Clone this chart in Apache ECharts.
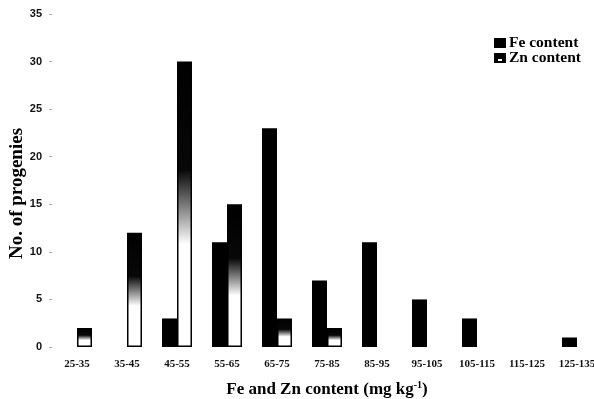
<!DOCTYPE html>
<html>
<head>
<meta charset="utf-8">
<script src="https://cdn.jsdelivr.net/npm/echarts@6/dist/echarts.min.js"></script>
<style>
  html, body { margin: 0; padding: 0; background: #fff; }
  #chart { width: 594px; height: 399px; }
</style>
</head>
<body>
<div id="chart"></div>
<script>
// Content classes (mg kg-1)
const categories = ['25-35', '35-45', '45-55', '55-65', '65-75', '75-85', '85-95', '95-105', '105-115', '115-125', '125-135'];
// Number of progenies per class
const feCounts = [0, 0, 3, 11, 23, 7, 11, 5, 3, 0, 1];
const znCounts = [2, 12, 30, 15, 3, 2, 0, 0, 0, 0, 0];
// Y axis ticks
const yTicks = [0, 5, 10, 15, 20, 25, 30, 35];

const serif = '"Liberation Serif", "Times New Roman", serif';
const sans = '"Liberation Sans", Arial, sans-serif';

// empty classes get no bar (and no outline)
const asBars = arr => arr.map(v => (v === 0 ? '-' : v));

// Zn bars: dark at the top fading to white, outlined in black
const znFill = new echarts.graphic.LinearGradient(0, 0, 0, 1, [
  { offset: 0, color: '#000' },
  { offset: 0.38, color: '#080808' },
  { offset: 0.52, color: '#8a8a8a' },
  { offset: 0.64, color: '#fff' },
  { offset: 1, color: '#fff' }
]);

const chart = echarts.init(document.getElementById('chart'), null, { renderer: 'canvas' });

chart.setOption({
  backgroundColor: '#fff',
  animation: false,
  grid: { left: 52, top: 14, width: 550, height: 333, containLabel: false, outerBoundsMode: 'none' },
  legend: {
    orient: 'vertical',
    left: 494,
    top: 35,
    padding: 0,
    itemWidth: 12,
    itemHeight: 10,
    itemGap: -1,
    textStyle: { fontFamily: serif, fontSize: 15.5, lineHeight: 14, fontWeight: 'bold', color: '#000', padding: [0, 0, 0, -2] },
    data: [
      { name: 'Fe content', icon: 'rect', itemStyle: { color: '#000', borderWidth: 0 } },
      {
        name: 'Zn content',
        icon: 'path://M0,0 L12,0 L12,10 L0,10 Z M4,6 L4,8 L8,8 L8,6 Z',
        itemStyle: { color: '#000', borderWidth: 0 }
      }
    ]
  },
  xAxis: {
    type: 'category',
    data: categories,
    axisLine: { show: false },
    axisTick: { show: false },
    axisLabel: {
      interval: 0,
      margin: 12,
      fontFamily: serif,
      fontSize: 11,
      fontWeight: 'bold',
      color: '#111'
    },
    name: 'Fe and Zn content (mg kg{sup|-1})',
    nameLocation: 'middle',
    nameGap: 33,
    nameMoveOverlap: false,
    nameTextStyle: {
      fontFamily: serif,
      fontSize: 17,
      fontWeight: 'bold',
      color: '#000',
      rich: {
        sup: { fontFamily: serif, fontSize: 10, fontWeight: 'bold', color: '#000', verticalAlign: 'top', padding: [0, 0, 9, 0] }
      }
    }
  },
  yAxis: {
    type: 'value',
    min: yTicks[0],
    max: yTicks[yTicks.length - 1],
    interval: yTicks[1] - yTicks[0],
    axisLine: { show: false },
    axisTick: { show: true, length: 3, lineStyle: { color: '#aaa', width: 1 } },
    splitLine: { show: false },
    axisLabel: {
      margin: 10,
      fontFamily: sans,
      fontSize: 11,
      fontWeight: 'bold',
      color: '#111'
    },
    name: 'No. of progenies',
    nameLocation: 'middle',
    nameGap: 25,
    nameMoveOverlap: false,
    nameTextStyle: {
      fontFamily: serif,
      fontSize: 19,
      fontWeight: 'bold',
      color: '#000',
      padding: [0, 26, 0, 0]
    }
  },
  series: [
    {
      name: 'Fe content',
      type: 'bar',
      data: asBars(feCounts),
      barWidth: 15,
      barGap: '0%',
      itemStyle: { color: '#000' }
    },
    {
      name: 'Zn content',
      type: 'bar',
      data: asBars(znCounts),
      barWidth: 15,
      itemStyle: { color: znFill, borderColor: '#000', borderWidth: 1.5 }
    }
  ]
});
</script>
</body>
</html>
